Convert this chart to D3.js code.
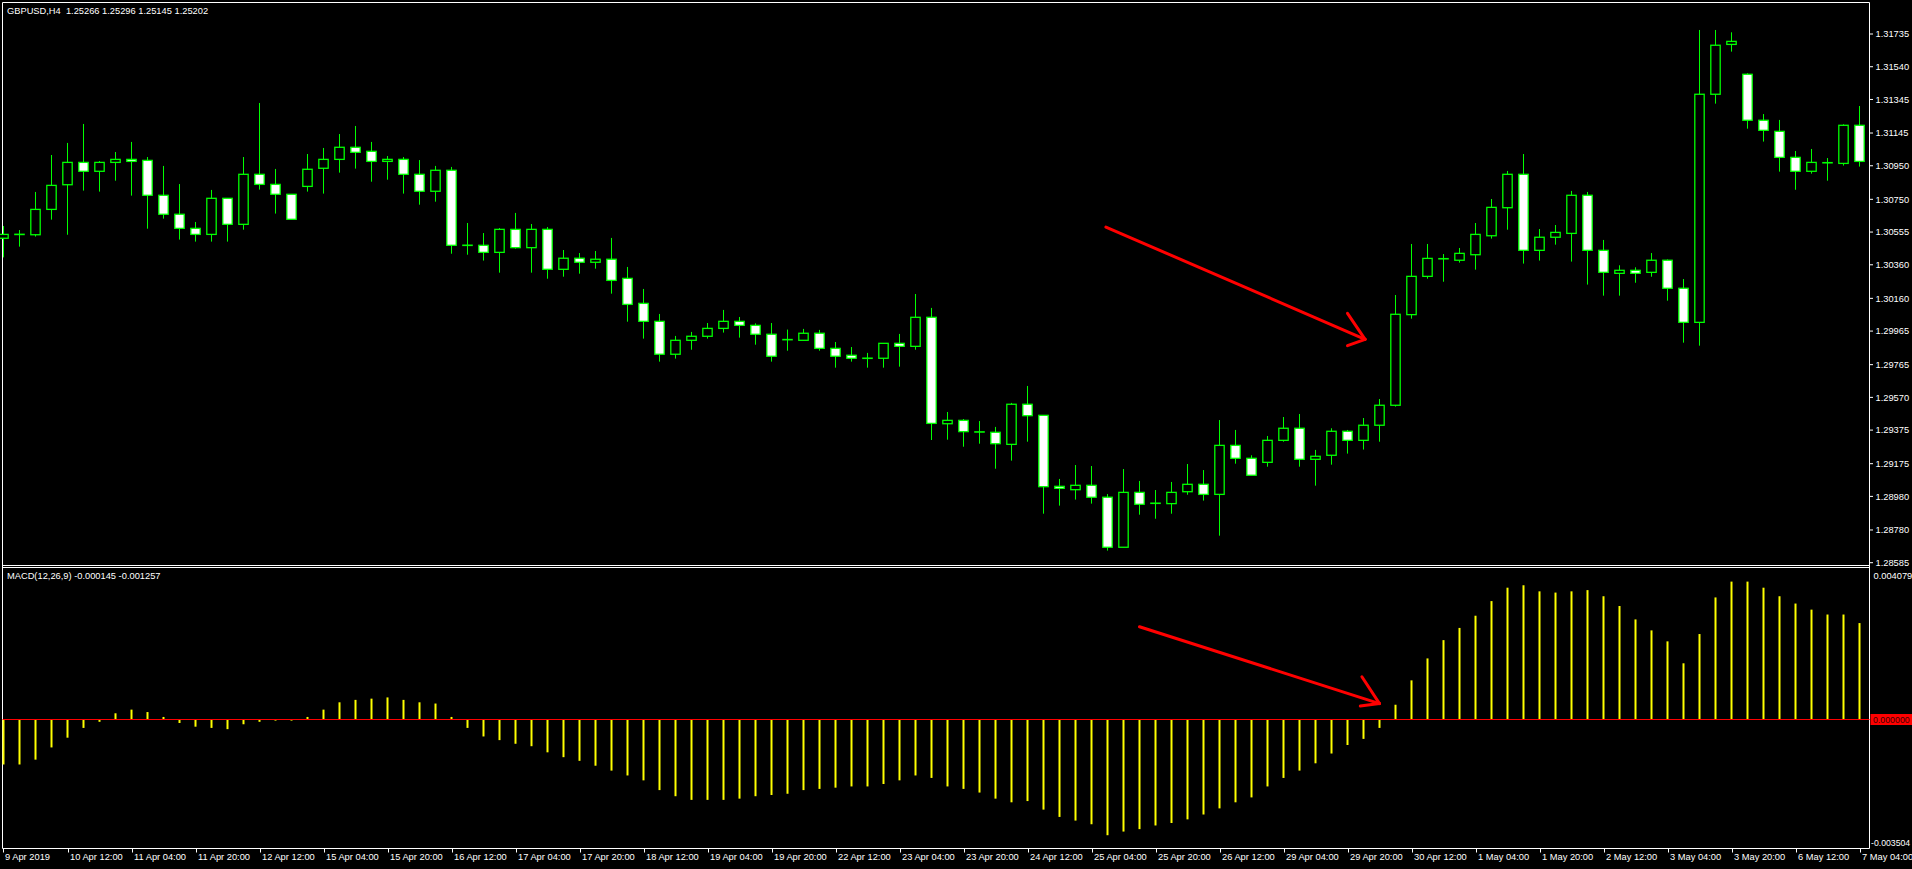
<!DOCTYPE html>
<html><head><meta charset="utf-8">
<script src="https://cdn.jsdelivr.net/npm/d3@7/dist/d3.min.js"></script>
<style>
html,body{margin:0;padding:0;background:#000;overflow:hidden}
svg{display:block}
text{font-family:"Liberation Sans",Arial,sans-serif;font-size:9.3px;fill:#fff;white-space:pre}
</style></head><body>
<svg id="c" width="1912" height="869"></svg>
<script>
// ---------------- DATA ----------------
const symbolTitle = "GBPUSD,H4  1.25266 1.25296 1.25145 1.25202";
const macdTitle = "MACD(12,26,9) -0.000145 -0.001257";

const opens = [1.30518,1.30541,1.30539,1.30690,1.30837,1.30970,1.30917,1.30970,1.30988,1.30982,
1.30774,1.30661,1.30577,1.30541,1.30756,1.30601,1.30899,1.30839,1.30780,1.30827,
1.30935,1.30988,1.31060,1.31036,1.30976,1.30988,1.30899,1.30798,1.30923,1.30476,
1.30476,1.30434,1.30571,1.30462,1.30571,1.30333,1.30399,1.30375,1.30393,1.30279,
1.30130,1.30023,1.29827,1.29910,1.29934,1.29981,1.30023,1.29999,1.29946,1.29914,
1.29910,1.29952,1.29862,1.29821,1.29803,1.29803,1.29892,1.29874,1.30047,1.29413,
1.29433,1.29364,1.29362,1.29290,1.29529,1.29463,1.29040,1.29020,1.29046,1.28975,
1.28677,1.29004,1.28939,1.28937,1.29008,1.29052,1.28992,1.29284,1.29207,1.29183,
1.29314,1.29386,1.29201,1.29225,1.29368,1.29314,1.29404,1.29523,1.30063,1.30291,
1.30396,1.30387,1.30420,1.30533,1.30700,1.30899,1.30446,1.30524,1.30547,1.30774,
1.30446,1.30309,1.30327,1.30315,1.30387,1.30220,1.30017,1.31376,1.31673,1.31495,
1.31221,1.31155,1.31000,1.30917,1.30968,1.30964,1.31191];
const highs = [1.30591,1.30567,1.30794,1.31014,1.31086,1.31199,1.30978,1.31032,1.31092,1.31002,
1.30949,1.30841,1.30615,1.30806,1.30756,1.31002,1.31324,1.30931,1.30780,1.31020,
1.31056,1.31139,1.31187,1.31092,1.31008,1.31002,1.30984,1.30949,1.30943,1.30609,
1.30549,1.30579,1.30669,1.30603,1.30585,1.30448,1.30430,1.30442,1.30520,1.30347,
1.30216,1.30067,1.29936,1.29960,1.30013,1.30091,1.30049,1.30011,1.30013,1.29974,
1.29978,1.29972,1.29900,1.29870,1.29835,1.29892,1.29948,1.30186,1.30103,1.29483,
1.29441,1.29429,1.29394,1.29537,1.29638,1.29463,1.29084,1.29167,1.29161,1.28994,
1.29143,1.29072,1.29018,1.29066,1.29173,1.29137,1.29435,1.29376,1.29225,1.29340,
1.29453,1.29471,1.29257,1.29386,1.29376,1.29447,1.29560,1.30180,1.30484,1.30484,
1.30424,1.30460,1.30609,1.30752,1.30919,1.31020,1.30573,1.30597,1.30800,1.30794,
1.30508,1.30357,1.30345,1.30430,1.30392,1.30275,1.31759,1.31759,1.31745,1.31501,
1.31258,1.31223,1.31038,1.31050,1.30996,1.31197,1.31306];
const lows = [1.30404,1.30468,1.30528,1.30629,1.30539,1.30802,1.30796,1.30861,1.30772,1.30575,
1.30635,1.30510,1.30498,1.30498,1.30498,1.30569,1.30808,1.30665,1.30631,1.30796,
1.30784,1.30909,1.30933,1.30855,1.30867,1.30784,1.30718,1.30736,1.30426,1.30420,
1.30385,1.30313,1.30456,1.30313,1.30277,1.30289,1.30307,1.30337,1.30188,1.30021,
1.29920,1.29783,1.29801,1.29854,1.29920,1.29956,1.29926,1.29884,1.29783,1.29848,
1.29910,1.29848,1.29747,1.29783,1.29747,1.29747,1.29753,1.29854,1.29316,1.29318,
1.29276,1.29294,1.29145,1.29193,1.29306,1.28877,1.28925,1.28961,1.28937,1.28657,
1.28677,1.28871,1.28847,1.28877,1.28990,1.28955,1.28746,1.29175,1.29106,1.29157,
1.29306,1.29157,1.29044,1.29169,1.29235,1.29259,1.29306,1.29515,1.30039,1.30277,
1.30259,1.30373,1.30331,1.30516,1.30569,1.30367,1.30385,1.30480,1.30379,1.30242,
1.30176,1.30176,1.30253,1.30289,1.30146,1.29896,1.29878,1.31320,1.31630,1.31171,
1.31094,1.30915,1.30807,1.30903,1.30861,1.30951,1.30945];
const closes = [1.30541,1.30541,1.30690,1.30833,1.30970,1.30917,1.30970,1.30988,1.30976,1.30774,
1.30661,1.30577,1.30541,1.30756,1.30601,1.30899,1.30839,1.30780,1.30631,1.30929,
1.30988,1.31060,1.31030,1.30976,1.30988,1.30899,1.30798,1.30923,1.30476,1.30476,
1.30434,1.30571,1.30462,1.30571,1.30333,1.30399,1.30375,1.30393,1.30267,1.30124,
1.30023,1.29827,1.29910,1.29934,1.29981,1.30023,1.29999,1.29946,1.29815,1.29914,
1.29952,1.29862,1.29815,1.29803,1.29803,1.29892,1.29874,1.30047,1.29415,1.29433,
1.29366,1.29364,1.29294,1.29529,1.29461,1.29038,1.29028,1.29046,1.28975,1.28677,
1.29004,1.28933,1.28939,1.29004,1.29052,1.28992,1.29284,1.29207,1.29106,1.29314,
1.29386,1.29201,1.29219,1.29368,1.29314,1.29404,1.29523,1.30065,1.30291,1.30398,
1.30396,1.30428,1.30541,1.30702,1.30899,1.30446,1.30524,1.30553,1.30774,1.30446,
1.30315,1.30327,1.30309,1.30387,1.30220,1.30017,1.31376,1.31668,1.31691,1.31221,
1.31161,1.31000,1.30917,1.30970,1.30968,1.31191,1.30976];

const macd = [-0.001286,-0.001286,-0.001148,-0.000801,-0.000524,-0.000246,-0.000073,0.000170,0.000274,0.000205,
0.000066,-0.000107,-0.000211,-0.000246,-0.000281,-0.000142,-0.000073,-0.000038,-0.000038,0.000066,
0.000274,0.000482,0.000551,0.000586,0.000621,0.000551,0.000482,0.000447,0.000066,-0.000246,
-0.000489,-0.000593,-0.000697,-0.000766,-0.000940,-0.001078,-0.001182,-0.001321,-0.001460,-0.001598,
-0.001737,-0.002014,-0.002188,-0.002292,-0.002292,-0.002292,-0.002257,-0.002188,-0.002153,-0.002118,
-0.002014,-0.001980,-0.001945,-0.001910,-0.001910,-0.001841,-0.001737,-0.001598,-0.001668,-0.001910,
-0.001980,-0.002084,-0.002257,-0.002361,-0.002326,-0.002569,-0.002777,-0.002881,-0.002985,-0.003297,
-0.003193,-0.003124,-0.003020,-0.002950,-0.002846,-0.002708,-0.002534,-0.002361,-0.002222,-0.001910,
-0.001668,-0.001460,-0.001252,-0.000974,-0.000732,-0.000558,-0.000246,0.000413,0.001106,0.001730,
0.002250,0.002597,0.002944,0.003360,0.003741,0.003810,0.003637,0.003602,0.003637,0.003672,
0.003498,0.003221,0.002839,0.002527,0.002215,0.001591,0.002423,0.003464,0.003914,0.003914,
0.003741,0.003498,0.003290,0.003117,0.002978,0.002978,0.002735];

const priceTicks = [1.31735,1.31540,1.31345,1.31145,1.30950,1.30750,1.30555,1.30360,1.30160,
1.29965,1.29765,1.29570,1.29375,1.29175,1.28980,1.28780,1.28585];
const macdMax = 0.004079, macdMin = -0.003504;
const firstDateLabel = "9 Apr 2019";
const timeTickLabels = ["10 Apr 12:00","11 Apr 04:00","11 Apr 20:00","12 Apr 12:00","15 Apr 04:00",
"15 Apr 20:00","16 Apr 12:00","17 Apr 04:00","17 Apr 20:00","18 Apr 12:00","19 Apr 04:00","19 Apr 20:00",
"22 Apr 12:00","23 Apr 04:00","23 Apr 20:00","24 Apr 12:00","25 Apr 04:00","25 Apr 20:00","26 Apr 12:00",
"29 Apr 04:00","29 Apr 20:00","30 Apr 12:00","1 May 04:00","1 May 20:00","2 May 12:00","3 May 04:00",
"3 May 20:00","6 May 12:00","7 May 04:00"];

// annotation arrows (bar index, value)
const priceArrow = {from:[68.9,1.30585], to:[85.1,1.29916], barbs:[[84.0,1.30071],[84.0,1.29878]]};
const macdArrow  = {from:[71.0,0.002630], to:[86.0,0.000446], barbs:[[84.9,0.001208],[84.8,0.000378]]};

// categories: H4 bar times (weekdays only)
const monthNames = ["Jan","Feb","Mar","Apr","May","Jun"];
const times = [];
{ let t = Date.UTC(2019,3,9,20);
  while (times.length < opens.length) {
    const d = new Date(t), wd = d.getUTCDay();
    if (wd !== 0 && wd !== 6) times.push(`${d.getUTCDate()} ${monthNames[d.getUTCMonth()]} ${String(d.getUTCHours()).padStart(2,"0")}:00`);
    t += 4*3600e3;
  } }

// ---------------- LAYOUT ----------------
const W = 1912, H = 869;
const L = 2.5, R = 1869.5, T = 2.5;
const pBot = 565.5, mTop = 567.5, mBot = 848.5;
const GREEN = "#00ff00";

const svg = d3.select("#c");
svg.append("rect").attr("width", W).attr("height", H).attr("fill", "#000");

const x = d3.scalePoint().domain(times).range([3.5, 1859.5]);
const xi = d3.scaleLinear().domain([0, times.length-1]).range([3.5, 1859.5]);
const y = d3.scaleLinear().domain([1.28585, 1.31735]).range([562.7, 34]);
const ym = d3.scaleLinear().domain([macdMin, macdMax]).range([842.5, 575.8]);

const bars = times.map((t,i)=>({t, o:opens[i], h:highs[i], l:lows[i], c:closes[i], m:macd[i]}));

// frame
const frame = svg.append("g").attr("stroke","#fff").attr("stroke-width",1).attr("fill","none");
frame.append("line").attr("x1",L).attr("x2",R).attr("y1",T).attr("y2",T);
frame.append("line").attr("x1",L).attr("x2",L).attr("y1",T).attr("y2",mBot);
frame.append("line").attr("x1",R).attr("x2",R).attr("y1",T).attr("y2",mBot);
frame.append("line").attr("x1",L).attr("x2",R).attr("y1",pBot).attr("y2",pBot);
frame.append("line").attr("x1",L).attr("x2",R).attr("y1",mTop).attr("y2",mTop);
frame.append("line").attr("x1",L).attr("x2",R).attr("y1",mBot).attr("y2",mBot);

// candles
const cg = svg.append("g");
cg.selectAll("line.wick").data(bars).join("line").attr("class","wick")
  .attr("x1",d=>x(d.t)).attr("x2",d=>x(d.t))
  .attr("y1",d=>y(d.h)).attr("y2",d=>y(d.l))
  .attr("stroke",GREEN).attr("stroke-width",1);
const bw = 9.4;
cg.selectAll("rect.body").data(bars.filter(d=>d.o!==d.c)).join("rect").attr("class","body")
  .attr("x",d=>x(d.t)-bw/2).attr("width",bw)
  .attr("y",d=>y(Math.max(d.o,d.c)))
  .attr("height",d=>Math.abs(y(d.o)-y(d.c)))
  .attr("fill",d=>d.c>d.o?"#000":"#fff")
  .attr("stroke",GREEN).attr("stroke-width",1.3);
cg.selectAll("line.doji").data(bars.filter(d=>d.o===d.c)).join("line").attr("class","doji")
  .attr("x1",d=>x(d.t)-bw/2-0.6).attr("x2",d=>x(d.t)+bw/2+0.6)
  .attr("y1",d=>y(d.c)).attr("y2",d=>y(d.c))
  .attr("stroke",GREEN).attr("stroke-width",1.6);

// price axis (right)
const pa = svg.append("g");
priceTicks.forEach(v=>{
  pa.append("line").attr("x1",R).attr("x2",R+3.5).attr("y1",y(v)).attr("y2",y(v)).attr("stroke","#fff");
  pa.append("text").attr("x",1875.5).attr("y",y(v)).attr("dy","0.35em").text(v.toFixed(5));
});

// MACD histogram
const zeroY = ym(0);
svg.append("g").selectAll("line").data(bars).join("line")
  .attr("x1",d=>x(d.t)).attr("x2",d=>x(d.t))
  .attr("y1",zeroY).attr("y2",d=>ym(d.m))
  .attr("stroke","#ffff00").attr("stroke-width",2);
svg.append("line").attr("x1",L).attr("x2",R).attr("y1",Math.round(zeroY)+0.5).attr("y2",Math.round(zeroY)+0.5)
  .attr("stroke","#ff0000").attr("stroke-width",1);

// MACD axis labels
svg.append("text").attr("x",1873.5).attr("y",ym(macdMax)).attr("dy","0.35em").text(macdMax.toFixed(6));
svg.append("text").attr("x",1871).attr("y",ym(macdMin)).attr("dy","0.35em").style("font-size","8.7px").text(macdMin.toFixed(6));
svg.append("rect").attr("x",R+1).attr("y",Math.round(zeroY)-5).attr("width",W-R).attr("height",11).attr("fill","#ff0000");
svg.append("text").attr("x",1873).attr("y",Math.round(zeroY)+0.5).attr("dy","0.35em")
  .style("fill","#3a0000").style("font-size","8.8px").text((0).toFixed(6));

// time axis
const ta = svg.append("g");
const tickData = [{label:firstDateLabel, pos:L}].concat(
  timeTickLabels.map(lb=>({label:lb, pos:x(lb)})));
tickData.forEach(d=>{
  const px = Math.round(d.pos)+0.5;
  ta.append("line").attr("x1",px).attr("x2",px).attr("y1",mBot).attr("y2",mBot+4).attr("stroke","#fff");
  ta.append("text").attr("x",px+1.5).attr("y",856.7).attr("dy","0.35em").text(d.label);
});

// titles
svg.append("text").attr("x",7).attr("y",10.8).attr("dy","0.35em").text(symbolTitle);
svg.append("text").attr("x",7).attr("y",576).attr("dy","0.35em").text(macdTitle);

// annotation arrows
function drawArrow(a, ys){
  const g = svg.append("g").attr("stroke","#ff0000").attr("stroke-width",3).attr("stroke-linecap","round").attr("fill","none");
  const tip=[xi(a.to[0]), ys(a.to[1])];
  g.append("line").attr("x1",xi(a.from[0])).attr("y1",ys(a.from[1])).attr("x2",tip[0]).attr("y2",tip[1]);
  a.barbs.forEach(b=>g.append("line").attr("x1",xi(b[0])).attr("y1",ys(b[1])).attr("x2",tip[0]).attr("y2",tip[1]));
}
drawArrow(priceArrow, y);
drawArrow(macdArrow, ym);
</script>
</body></html>
